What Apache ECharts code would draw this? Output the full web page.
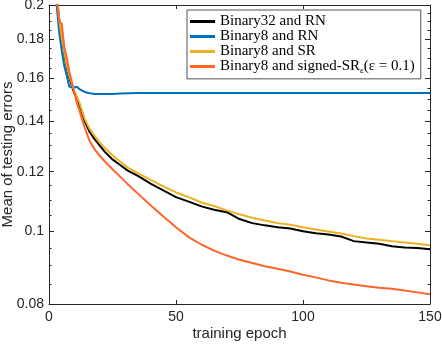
<!DOCTYPE html>
<html>
<head>
<meta charset="utf-8">
<script src="https://cdn.jsdelivr.net/npm/echarts@6/dist/echarts.min.js"></script>
<style>
  html, body { margin: 0; padding: 0; background: #fff; }
  #main { width: 442px; height: 344px; }
</style>
</head>
<body>
<div id="main"></div>
<script>
var chartDom = document.getElementById('main');
var myChart = echarts.init(chartDom);
var option;

var epochs = [1, 2, 3, 4, 5, 6, 7, 8, 9, 10, 11, 12, 14, 16, 18, 20, 22, 25, 28, 31, 35, 40, 45, 50,
  55, 60, 65, 70, 75, 80, 85, 90, 95, 100, 105, 110, 115, 120, 125, 130, 135, 140, 145, 150];

var binary32RN = [0.26, 0.235, 0.206, 0.192, 0.180, 0.172, 0.165, 0.160, 0.156, 0.1525, 0.1505, 0.1473,
  0.1402, 0.1355, 0.1325, 0.1300, 0.1275, 0.1246, 0.1225, 0.1204, 0.1185, 0.1157, 0.1133, 0.1110,
  0.1095, 0.1079, 0.1068, 0.1060, 0.1038, 0.1025, 0.1018, 0.1012, 0.1008, 0.1000,
  0.0994, 0.0990, 0.0984, 0.0970, 0.0966, 0.0962, 0.0955, 0.0951, 0.0950, 0.0946];

var binary8RN = [0.26, 0.23, 0.200, 0.184, 0.174, 0.166, 0.161, 0.1557, 0.1556, 0.1553, 0.1557, 0.1545,
  0.1532, 0.1526, 0.1523, 0.1522, 0.1522, 0.1523, 0.1525, 0.1526, 0.1527, 0.1527, 0.1527, 0.1527,
  0.1527, 0.1527, 0.1527, 0.1527, 0.1527, 0.1527, 0.1527, 0.1527, 0.1527, 0.1527,
  0.1527, 0.1527, 0.1527, 0.1527, 0.1527, 0.1527, 0.1527, 0.1527, 0.1527, 0.1527];

var binary8SR = [0.26, 0.235, 0.207, 0.192, 0.181, 0.173, 0.166, 0.161, 0.157, 0.1535, 0.1510, 0.1482,
  0.1412, 0.1368, 0.1338, 0.1312, 0.1290, 0.1262, 0.1238, 0.1215, 0.1195, 0.1170, 0.1147, 0.1126,
  0.1110, 0.1092, 0.1080, 0.1066, 0.1053, 0.1042, 0.1033, 0.1025, 0.1020, 0.1012,
  0.1005, 0.0999, 0.0993, 0.0985, 0.0978, 0.0974, 0.0970, 0.0966, 0.0962, 0.0958];

var binary8SignedSR = [0.27, 0.24, 0.205, 0.190, 0.189, 0.176, 0.170, 0.163, 0.158, 0.153, 0.148, 0.1445,
  0.1375, 0.1318, 0.1285, 0.1260, 0.1238, 0.1209, 0.1182, 0.1155, 0.1122, 0.1083, 0.1046, 0.1012,
  0.0982, 0.0960, 0.0942, 0.0928, 0.0916, 0.0907, 0.0898, 0.0891, 0.0884, 0.0875,
  0.0868, 0.0860, 0.0854, 0.0849, 0.0845, 0.0841, 0.0838, 0.0834, 0.0829, 0.0824];

var yTickLabels = [0.08, 0.1, 0.12, 0.14, 0.16, 0.18, 0.2];

// y axis is logarithmic: plot log10 of the values
function lg(v) { return Math.log10(v); }
function toPairs(vals) {
  return epochs.map(function (e, i) { return [e, lg(vals[i])]; });
}
var majorY = yTickLabels.map(lg);
var minorY = [];
for (var k = 17; k <= 39; k++) {
  var v = k * 0.005;
  if (k % 4 !== 0 && Math.abs(v - 0.1) > 1e-9) minorY.push(lg(v));
}

var axisColor = '#262626';
var font = 'Liberation Sans, Arial, Helvetica, sans-serif';

function yAx(pos, ticks, len, labels, line) {
  return {
    type: 'value',
    position: pos,
    min: lg(0.08),
    max: lg(0.2),
    axisLine: { show: line, lineStyle: { color: axisColor, width: 1 } },
    axisTick: { show: true, inside: true, length: len, customValues: ticks, lineStyle: { color: axisColor } },
    axisLabel: {
      show: labels,
      customValues: ticks,
      margin: 5,
      color: axisColor,
      fontSize: 14,
      fontFamily: font,
      formatter: function (val) { return String(+Math.pow(10, val).toFixed(2)); }
    },
    splitLine: { show: false }
  };
}

var yMain = yAx('left', majorY, 5, true, true);
yMain.name = 'Mean of testing errors';
yMain.nameLocation = 'middle';
yMain.nameGap = 34;
yMain.nameMoveOverlap = false;
yMain.nameTextStyle = { color: axisColor, fontSize: 15, fontFamily: font };

function xAx(pos, labels) {
  return {
    type: 'value',
    position: pos,
    min: 0,
    max: 150,
    interval: 50,
    axisLine: { show: true, onZero: false, lineStyle: { color: axisColor, width: 1 } },
    axisTick: { show: true, inside: true, length: 4, lineStyle: { color: axisColor } },
    axisLabel: { show: labels, margin: 6, color: axisColor, fontSize: 14, fontFamily: font },
    splitLine: { show: false }
  };
}
var xMain = xAx('bottom', true);
xMain.name = 'training epoch';
xMain.nameLocation = 'middle';
xMain.nameGap = 22;
xMain.nameMoveOverlap = false;
xMain.nameTextStyle = { color: axisColor, fontSize: 15, fontFamily: font };

var names = ['Binary32 and RN', 'Binary8 and RN', 'Binary8 and SR', 'Binary8 and signed-SR'];
var colors = ['#000000', '#0072BD', '#EDB120', '#FF6428'];
var values = [binary32RN, binary8RN, binary8SR, binary8SignedSR];

option = {
  animation: false,
  backgroundColor: '#ffffff',
  grid: { left: 49, right: 12, top: 5, bottom: 40, containLabel: false, outerBoundsMode: 'none' },
  xAxis: [xMain, xAx('top', false)],
  yAxis: [
    yMain,
    yAx('left', minorY, 2.5, false, false),
    yAx('right', majorY, 5, false, true),
    yAx('right', minorY, 2.5, false, false)
  ],
  legend: {
    orient: 'vertical',
    left: 187,
    top: 10,
    padding: [4, 6, 4, 3],
    itemGap: 0,
    itemWidth: 25,
    itemHeight: 3,
    icon: 'rect',
    backgroundColor: '#ffffff',
    borderColor: axisColor,
    borderWidth: 0.8,
    borderRadius: 0,
    data: names,
    formatter: function (name) {
      if (name === 'Binary8 and signed-SR') {
        return '{n|Binary8 and signed-SR}{s|ε}{n|(ε = 0.1)}';
      }
      return '{n|' + name + '}';
    },
    textStyle: {
      color: '#000',
      rich: {
        n: { fontFamily: 'Liberation Serif, serif', fontSize: 15, lineHeight: 16.7, color: '#000' },
        s: { fontFamily: 'Liberation Serif, serif', fontSize: 9, lineHeight: 16.7, verticalAlign: 'bottom', padding: [6, 0, 0, 0], color: '#000' }
      }
    }
  },
  series: names.map(function (n, i) {
    return {
      name: n,
      type: 'line',
      data: toPairs(values[i]),
      symbol: 'none',
      clip: true,
      color: colors[i],
      lineStyle: { color: colors[i], width: 2 },
      z: 2 + i
    };
  })
};

option && myChart.setOption(option);
</script>
</body>
</html>
